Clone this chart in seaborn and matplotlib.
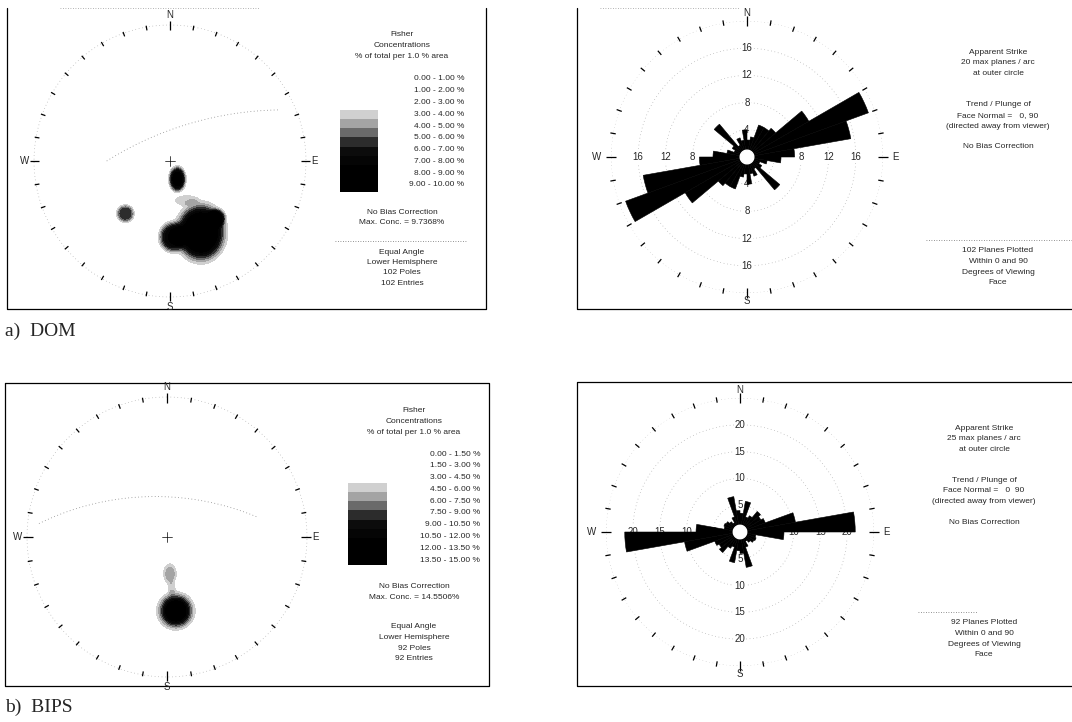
"""
Stereonet (Fisher pole concentrations) and apparent-strike rose diagrams,
DOM vs BIPS.
"""
import numpy as np
import matplotlib
matplotlib.use("Agg")
import matplotlib.pyplot as plt
from matplotlib.colors import ListedColormap
import seaborn as sns

sns.set_style("white")
plt.rcParams["font.family"] = ["Liberation Sans", "DejaVu Sans"]

FIG_W, FIG_H = 1072, 722

# ---------------------------------------------------------------------------
# Data
# ---------------------------------------------------------------------------

# apparent strike rose, 10 degree bins (bidirectional)
bin_start = np.arange(0, 180, 10)
dom_strike = [2.5, 3, 5, 5, 5.5, 10.5, 19, 15.5, 7, 5, 3, 2, 2.5, 6.3, 2, 3, 2.5, 4]
bips_strike = [3.5, 5.8, 3, 3.5, 5, 4.5, 5, 10.5, 21.5, 8.2, 3, 3.2, 3, 2.5, 2, 3, 6.7, 4]

# pole concentration clusters on the equal-angle net (unit radius)
dom_cx = [0.054, -0.328, 0.226, 0.02, 0.34, 0.12]
dom_cy = [-0.133, -0.387, -0.526, -0.56, -0.42, -0.29]
dom_ax = [0.055, 0.058, 0.163, 0.09, 0.06, 0.09]
dom_ay = [0.083, 0.058, 0.19, 0.10, 0.06, 0.04]
dom_peak = [8.0, 5.0, 9.7368, 7.0, 6.0, 1.7]

bips_cx = [0.063, 0.021, 0.035]
bips_cy = [-0.528, -0.264, -0.37]
bips_ax = [0.105, 0.045, 0.025]
bips_ay = [0.105, 0.072, 0.05]
bips_peak = [14.5506, 4.0, 2.2]

# contour intervals (% of total per 1.0 % area)
dom_levels = [0, 1, 2, 3, 4, 5, 6, 7, 8, 9, 10]
bips_levels = [0, 1.5, 3, 4.5, 6, 7.5, 9, 10.5, 12, 13.5, 15]
level_greys = ["white", "#d0d0d0", "#a4a4a4", "#6a6a6a", "#2c2c2c",
               "#0c0c0c", "#050505", "black", "black", "black"]

# faint great circles (dip direction, dip, azimuth range shown)
dom_gc = (338, 66, 270, 425)
bips_gc = (3, 58, 276, 438)

dom_info = ["No Bias Correction", "Max. Conc. = 9.7368%"]
bips_info = ["No Bias Correction", "Max. Conc. = 14.5506%"]
dom_net = ["Equal Angle", "Lower Hemisphere", "102 Poles", "102 Entries"]
bips_net = ["Equal Angle", "Lower Hemisphere", "92 Poles", "92 Entries"]

dom_rose_txt = ["Apparent Strike", "20 max planes / arc", "at outer circle"]
bips_rose_txt = ["Apparent Strike", "25 max planes / arc", "at outer circle"]
dom_face = ["Trend / Plunge of", "Face Normal =   0, 90", "(directed away from viewer)"]
bips_face = ["Trend / Plunge of", "Face Normal =   0  90", "(directed away from viewer)"]
dom_planes = ["102 Planes Plotted", "Within 0 and 90", "Degrees of Viewing", "Face"]
bips_planes = ["92 Planes Plotted", "Within 0 and 90", "Degrees of Viewing", "Face"]


# ---------------------------------------------------------------------------
# Helpers
# ---------------------------------------------------------------------------

def px_axes(fig, x0, y0, w, h, **kw):
    """Axes placed in pixel coords (origin top-left)."""
    ax = fig.add_axes([x0 / FIG_W, 1 - (y0 + h) / FIG_H, w / FIG_W, h / FIG_H], **kw)
    ax.patch.set_alpha(0)
    return ax


def great_circle(dd, dip, az0, az1):
    az = np.deg2rad(np.linspace(az0, az1, 300))
    app = np.arctan(np.tan(np.deg2rad(dip)) * np.cos(az - np.deg2rad(dd)))
    r = np.tan((np.pi / 2 - app) / 2)
    return r * np.sin(az), r * np.cos(az)


def draw_net(ax, cx, cy, sx, sy, peak, levels, sharp, gc):
    g = np.linspace(-1, 1, 601)
    X, Y = np.meshgrid(g, g)
    Z = np.zeros_like(X)
    for x0, y0, a, b, p in zip(cx, cy, sx, sy, peak):
        d = np.hypot((X - x0) / a, (Y - y0) / b)
        Z += p * np.exp(-d ** sharp)
    Z = np.where(X ** 2 + Y ** 2 <= 1, np.minimum(Z, max(peak)), np.nan)
    ax.contourf(X, Y, Z, levels=levels[1:], colors=level_greys[1:], zorder=2)

    gx, gy = great_circle(*gc)
    ax.plot(gx, gy, ls=(0, (1, 3)), color="#8c8c8c", lw=0.6, zorder=1)

    t = np.linspace(0, 2 * np.pi, 721)
    ax.plot(np.sin(t), np.cos(t), ls=(0, (1, 4)), color="#a0a0a0", lw=0.5)
    for deg in range(0, 360, 10):
        a = np.deg2rad(deg)
        r0, r1 = (0.96, 1.03) if deg % 90 == 0 else (0.975, 1.01)
        ax.plot([r0 * np.sin(a), r1 * np.sin(a)], [r0 * np.cos(a), r1 * np.cos(a)],
                color="black", lw=0.9, solid_capstyle="butt")
    ax.plot([-0.035, 0.035], [0, 0], color="black", lw=0.5)
    ax.plot([0, 0], [-0.035, 0.035], color="black", lw=0.5)
    kw = dict(fontsize=7)
    ax.text(0, 1.035, "N", ha="center", va="bottom", **kw)
    ax.text(0, -1.035, "S", ha="center", va="top", **kw)
    ax.text(-1.035, 0, "W", ha="right", va="center", **kw)
    ax.text(1.035, 0, "E", ha="left", va="center", **kw)
    ax.set_xlim(-1.15, 1.15)
    ax.set_ylim(-1.15, 1.15)
    ax.axis("off")


def draw_rose(ax, counts, rmax, rings, lab_r):
    ax.set_theta_zero_location("N")
    ax.set_theta_direction(-1)
    theta = np.deg2rad(np.r_[bin_start, bin_start + 180])
    ax.bar(theta, np.r_[counts, counts], width=np.deg2rad(10), align="edge",
           color="black", edgecolor="black", linewidth=0.4, zorder=3)
    t = np.linspace(0, 2 * np.pi, 721)
    for r in rings + [rmax]:
        ax.plot(t, np.full_like(t, r), ls=(0, (1, 4)), color="#a0a0a0", lw=0.5, zorder=1)
    for r in rings:
        for th in (0, np.pi / 2, np.pi, 1.5 * np.pi):
            ax.text(th, r, str(r), fontsize=7, ha="center", va="center", zorder=2,
                    bbox=dict(boxstyle="square,pad=0.1", fc="white", ec="none"))
    for deg in range(0, 360, 10):
        a = np.deg2rad(deg)
        d = 0.035 if deg % 90 == 0 else 0.02
        ax.plot([a, a], [rmax * (1 - d), rmax * (1 + d)], color="black", lw=0.9,
                clip_on=False, solid_capstyle="butt")
    ax.fill(t, np.full_like(t, rmax * 0.05), color="white", zorder=4)
    kw = dict(fontsize=7)
    ax.text(0, lab_r, "N", ha="center", va="center", **kw)
    ax.text(np.pi, lab_r, "S", ha="center", va="center", **kw)
    ax.text(1.5 * np.pi, lab_r * 1.045, "W", ha="center", va="center", **kw)
    ax.text(0.5 * np.pi, lab_r * 1.03, "E", ha="center", va="center", **kw)
    ax.set_ylim(0, rmax)
    ax.axis("off")


def legend_block(fig, bg, xc, y_head, x_rng, y_rng, bar, levels, info, y_info, net, y_net,
                 dotted=None):
    for i, s in enumerate(["Fisher", "Concentrations", "% of total per 1.0 % area"]):
        bg.text(xc, y_head + i * 10.8, s, ha="center", va="center", fontsize=6)
    dy = (y_rng[1] - y_rng[0]) / (len(levels) - 2)
    for i in range(len(levels) - 1):
        s = f"{levels[i]:.2f} - {levels[i + 1]:.2f} %"
        bg.text(x_rng, y_rng[0] + i * dy, s, ha="right", va="center", fontsize=6)
    bx = px_axes(fig, *bar)
    sns.heatmap(np.arange(len(level_greys))[:, None], cmap=ListedColormap(level_greys),
                vmin=-0.5, vmax=len(level_greys) - 0.5, cbar=False,
                xticklabels=False, yticklabels=False, ax=bx)
    bx.axis("off")
    for i, s in enumerate(info):
        bg.text(xc, y_info + i * 10.5, s, ha="center", va="center", fontsize=6)
    if dotted:
        bg.plot(dotted[:2], [dotted[2]] * 2, ls=(0, (1, 2)), color="#707070", lw=0.6)
    for i, s in enumerate(net):
        bg.text(xc, y_net + i * 10.5, s, ha="center", va="center", fontsize=6)


def text_lines(bg, xc, y0, lines, step=10.6):
    for i, s in enumerate(lines):
        bg.text(xc, y0 + i * step, s, ha="center", va="center", fontsize=6)


# ---------------------------------------------------------------------------
# Figure
# ---------------------------------------------------------------------------

fig = plt.figure(figsize=(FIG_W / 100, FIG_H / 100), dpi=100)
bg = fig.add_axes([0, 0, 1, 1])
bg.set_xlim(0, FIG_W)
bg.set_ylim(FIG_H, 0)
bg.axis("off")

line = dict(color="black", lw=0.9)
# panel frames
bg.plot([7, 7, 486, 486], [8, 309, 309, 8], **line)
bg.plot([60, 260], [8, 8], ls=(0, (1, 2)), color="#9a9a9a", lw=0.6)
bg.plot([577, 577, 1072], [8, 309, 309], **line)
bg.plot([600, 740], [8, 8], ls=(0, (1, 2)), color="#9a9a9a", lw=0.6)
bg.plot([5, 5, 489, 489, 5], [383, 686, 686, 383, 383], **line)
bg.plot([1072, 577, 577, 1072], [382, 382, 686, 686], **line)

# (a) DOM
net = px_axes(fig, 170 - 1.15 * 136, 161 - 1.15 * 136, 2.3 * 136, 2.3 * 136)
draw_net(net, dom_cx, dom_cy, dom_ax, dom_ay, dom_peak, dom_levels, 4, dom_gc)
legend_block(fig, bg, 402, 35, 464, (79, 185), (340, 101, 38, 91), dom_levels,
             dom_info, 212, dom_net, 252, dotted=(335, 466, 241))

rose = px_axes(fig, 747 - 136, 157 - 136, 272, 272, projection="polar")
draw_rose(rose, dom_strike, 20, [4, 8, 12, 16], 21.2)
text_lines(bg, 998, 52, dom_rose_txt)
text_lines(bg, 998, 105, dom_face)
text_lines(bg, 998, 147, ["No Bias Correction"])
bg.plot([926, 1072], [240, 240], ls=(0, (1, 2)), color="#707070", lw=0.6)
text_lines(bg, 998, 251, dom_planes)

# (b) BIPS
net = px_axes(fig, 167 - 1.15 * 140, 537 - 1.15 * 140, 2.3 * 140, 2.3 * 140)
draw_net(net, bips_cx, bips_cy, bips_ax, bips_ay, bips_peak, bips_levels, 3, bips_gc)
legend_block(fig, bg, 414, 411, 480, (454, 560), (348, 474, 39, 91), bips_levels,
             bips_info, 587, bips_net, 627)

rose = px_axes(fig, 740 - 134, 532 - 134, 268, 268, projection="polar")
draw_rose(rose, bips_strike, 25, [5, 10, 15, 20], 26.5)
text_lines(bg, 984, 428, bips_rose_txt)
text_lines(bg, 984, 480, bips_face)
text_lines(bg, 984, 523, ["No Bias Correction"])
bg.plot([918, 978], [612, 612], ls=(0, (1, 2)), color="#707070", lw=0.6)
text_lines(bg, 984, 623, bips_planes)

serif = dict(family=["Liberation Serif", "DejaVu Serif"], fontsize=14, va="center")
bg.text(5, 331, "a)  DOM", **serif)
bg.text(5, 707, "b)  BIPS", **serif)

fig.savefig("out.png", dpi=100)
